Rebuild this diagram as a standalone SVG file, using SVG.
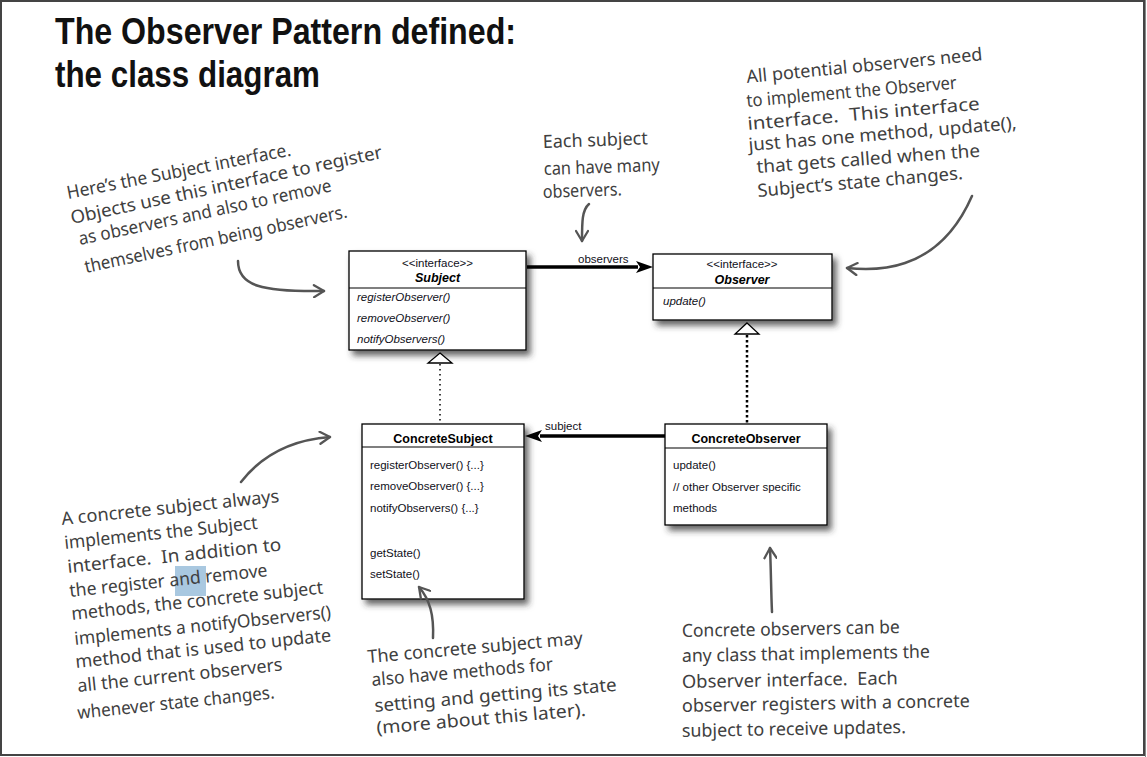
<svg xmlns="http://www.w3.org/2000/svg" width="1147" height="757" viewBox="0 0 1147 757">
<defs>
<style>
.box{fill:#fff;stroke:#000;stroke-width:1.3}
.div{stroke:#000;stroke-width:1.2}
.uml{font-family:"Liberation Sans",Arial,sans-serif;font-size:11.5px;fill:#101020}
.it{font-style:italic}
.ttl{font-family:"Liberation Sans",Arial,sans-serif;font-size:12.5px;font-weight:bold;fill:#000}
.hand{font-family:"Noto Sans","DejaVu Sans",sans-serif;font-size:18px;fill:#404040}
.title{font-family:"Liberation Sans",Arial,sans-serif;font-size:36px;font-weight:bold;fill:#111}
.note{fill:none;stroke:#555;stroke-width:2.5;stroke-linecap:round;stroke-linejoin:round}
</style>
<filter id="sh" x="-10%" y="-10%" width="130%" height="130%">
<feDropShadow dx="4" dy="5" stdDeviation="3" flood-color="#333" flood-opacity="0.75"/>
</filter>
<marker id="chev" viewBox="0 0 14 14" refX="12" refY="7" markerWidth="14" markerHeight="14" markerUnits="userSpaceOnUse" orient="auto">
<path d="M2,1 L12,7 L2,13" fill="none" stroke="#555" stroke-width="2.3" stroke-linecap="round" stroke-linejoin="round"/>
</marker>
</defs>
<rect x="0" y="0" width="1147" height="757" fill="#fff"/>
<rect x="1" y="1" width="1143" height="754" fill="none" stroke="#444" stroke-width="2"/>
<line x1="1145.5" y1="0" x2="1145.5" y2="757" stroke="#888" stroke-width="1"/>

<g id="title">
<text class="title" x="55" y="44" textLength="461" lengthAdjust="spacingAndGlyphs">The Observer Pattern defined:</text>
<text class="title" x="55" y="87" textLength="265" lengthAdjust="spacingAndGlyphs">the class diagram</text>
</g>

<g id="subject">
<rect class="box" x="349" y="251" width="177" height="99" filter="url(#sh)"/>
<line class="div" x1="349" y1="288" x2="526" y2="288"/>
<text class="uml" x="437.5" y="267" text-anchor="middle">&lt;&lt;interface&gt;&gt;</text>
<text class="ttl it" x="437.5" y="282" text-anchor="middle">Subject</text>
<text class="uml it" x="357" y="301">registerObserver()</text>
<text class="uml it" x="357" y="322">removeObserver()</text>
<text class="uml it" x="357" y="343">notifyObservers()</text>
</g>

<g id="observer">
<rect class="box" x="653" y="254" width="179" height="66" filter="url(#sh)"/>
<line class="div" x1="653" y1="288" x2="832" y2="288"/>
<text class="uml" x="742" y="268" text-anchor="middle">&lt;&lt;interface&gt;&gt;</text>
<text class="ttl it" x="742" y="284" text-anchor="middle">Observer</text>
<text class="uml it" x="663" y="305">update()</text>
</g>

<g id="concrete-subject">
<rect class="box" x="362" y="424" width="162" height="175" filter="url(#sh)"/>
<line class="div" x1="362" y1="447" x2="524" y2="447"/>
<text class="ttl" x="443" y="443" text-anchor="middle">ConcreteSubject</text>
<text class="uml" x="370" y="469">registerObserver() {...}</text>
<text class="uml" x="370" y="490">removeObserver() {...}</text>
<text class="uml" x="370" y="512">notifyObservers() {...}</text>
<text class="uml" x="370" y="557">getState()</text>
<text class="uml" x="370" y="578">setState()</text>
</g>

<g id="concrete-observer">
<rect class="box" x="665" y="424" width="162" height="101" filter="url(#sh)"/>
<line class="div" x1="665" y1="448" x2="827" y2="448"/>
<text class="ttl" x="746" y="443" text-anchor="middle">ConcreteObserver</text>
<text class="uml" x="673" y="469">update()</text>
<text class="uml" x="673" y="491">// other Observer specific</text>
<text class="uml" x="673" y="512">methods</text>
</g>

<g id="connectors">
<line x1="527" y1="267" x2="638" y2="267" stroke="#000" stroke-width="3.3"/>
<path d="M653,267 L636,261 L640,267 L636,273 Z" fill="#000"/>
<text class="uml" x="578" y="263">observers</text>
<line x1="665" y1="436" x2="540" y2="436" stroke="#000" stroke-width="3.3"/>
<path d="M525,436 L542,430 L538,436 L542,442 Z" fill="#000"/>
<text class="uml" x="545" y="430">subject</text>
<line x1="440" y1="364" x2="440" y2="424" stroke="#000" stroke-width="1.5" stroke-dasharray="1.5 3.5"/>
<path d="M440,353 L452,363 L428,363 Z" fill="#fff" stroke="#000" stroke-width="1.3"/>
<line x1="747" y1="335" x2="747" y2="424" stroke="#000" stroke-width="2.5" stroke-dasharray="2.5 2.5"/>
<path d="M747,323 L759,334 L735,334 Z" fill="#fff" stroke="#000" stroke-width="1.3"/>
</g>

<g id="note-subject">
<text class="hand" x="68" y="199" transform="rotate(-11 68 199)" textLength="228" lengthAdjust="spacingAndGlyphs">Here’s the Subject interface.</text>
<text class="hand" x="72" y="224" transform="rotate(-12 72 224)" textLength="318" lengthAdjust="spacingAndGlyphs">Objects use this interface to register</text>
<text class="hand" x="80" y="245" transform="rotate(-12 80 245)" textLength="258" lengthAdjust="spacingAndGlyphs">as observers and also to remove</text>
<text class="hand" x="86" y="273" transform="rotate(-12 86 273)" textLength="268" lengthAdjust="spacingAndGlyphs">themselves from being observers.</text>
<path class="note" d="M238,261 C238,286 262,292 324,291" marker-end="url(#chev)"/>
</g>

<g id="note-many">
<text class="hand" x="543" y="148" transform="rotate(-2 543 148)" textLength="105" lengthAdjust="spacingAndGlyphs">Each subject</text>
<text class="hand" x="544" y="175" transform="rotate(-2 544 175)" textLength="116" lengthAdjust="spacingAndGlyphs">can have many</text>
<text class="hand" x="543" y="198" transform="rotate(-2 543 198)" textLength="79" lengthAdjust="spacingAndGlyphs">observers.</text>
<path class="note" d="M589,204 C582,210 582,222 582,241" marker-end="url(#chev)"/>
</g>

<g id="note-observer">
<text class="hand" x="747" y="83" transform="rotate(-5.5 747 83)" textLength="237" lengthAdjust="spacingAndGlyphs">All potential observers need</text>
<text class="hand" x="747" y="107" transform="rotate(-5 747 107)" textLength="211" lengthAdjust="spacingAndGlyphs">to implement the Observer</text>
<text class="hand" x="748" y="130" transform="rotate(-5 748 130)" textLength="233" lengthAdjust="spacingAndGlyphs">interface.&#160; This interface</text>
<text class="hand" x="749" y="151" transform="rotate(-4.7 749 151)" textLength="269" lengthAdjust="spacingAndGlyphs">just has one method, update(),</text>
<text class="hand" x="757" y="173" transform="rotate(-4.2 757 173)" textLength="224" lengthAdjust="spacingAndGlyphs">that gets called when the</text>
<text class="hand" x="758" y="197" transform="rotate(-5 758 197)" textLength="206" lengthAdjust="spacingAndGlyphs">Subject’s state changes.</text>
<path class="note" d="M972,196 C958,228 938,252 905,263 C885,270 866,270 847,268" marker-end="url(#chev)"/>
</g>

<g id="note-concrete-subject">
<rect x="175" y="566" width="31" height="30" fill="#a9c8e0"/>
<text class="hand" x="62" y="525" transform="rotate(-6 62 525)" textLength="219" lengthAdjust="spacingAndGlyphs">A concrete subject always</text>
<text class="hand" x="65" y="549" transform="rotate(-6 65 549)" textLength="194" lengthAdjust="spacingAndGlyphs">implements the Subject</text>
<text class="hand" x="68" y="573" transform="rotate(-6 68 573)" textLength="215" lengthAdjust="spacingAndGlyphs">interface.&#160; In addition to</text>
<text class="hand" x="70" y="597" transform="rotate(-6 70 597)" textLength="199" lengthAdjust="spacingAndGlyphs">the register and remove</text>
<text class="hand" x="72" y="620" transform="rotate(-6 72 620)" textLength="253" lengthAdjust="spacingAndGlyphs">methods, the concrete subject</text>
<text class="hand" x="75" y="645" transform="rotate(-6 75 645)" textLength="258" lengthAdjust="spacingAndGlyphs">implements a notifyObservers()</text>
<text class="hand" x="76" y="668" transform="rotate(-6 76 668)" textLength="257" lengthAdjust="spacingAndGlyphs">method that is used to update</text>
<text class="hand" x="78" y="692" transform="rotate(-6 78 692)" textLength="206" lengthAdjust="spacingAndGlyphs">all the current observers</text>
<text class="hand" x="78" y="719" transform="rotate(-6 78 719)" textLength="198" lengthAdjust="spacingAndGlyphs">whenever state changes.</text>
<path class="note" d="M241,482 C262,455 290,440 330,437" marker-end="url(#chev)"/>
</g>

<g id="note-state">
<text class="hand" x="368" y="663" transform="rotate(-5 368 663)" textLength="216" lengthAdjust="spacingAndGlyphs">The concrete subject may</text>
<text class="hand" x="372" y="686" transform="rotate(-5 372 686)" textLength="182" lengthAdjust="spacingAndGlyphs">also have methods for</text>
<text class="hand" x="375" y="712" transform="rotate(-5 375 712)" textLength="243" lengthAdjust="spacingAndGlyphs">setting and getting its state</text>
<text class="hand" x="377" y="734" transform="rotate(-5 377 734)" textLength="210" lengthAdjust="spacingAndGlyphs">(more about this later).</text>
<path class="note" d="M433,638 C434,615 430,600 419,587" marker-end="url(#chev)"/>
</g>

<g id="note-concrete-observer">
<text class="hand" x="682" y="637" transform="rotate(-1 682 637)" textLength="218" lengthAdjust="spacingAndGlyphs">Concrete observers can be</text>
<text class="hand" x="682" y="662" transform="rotate(-1 682 662)" textLength="248" lengthAdjust="spacingAndGlyphs">any class that implements the</text>
<text class="hand" x="682" y="688" transform="rotate(-1 682 688)" textLength="216" lengthAdjust="spacingAndGlyphs">Observer interface.&#160; Each</text>
<text class="hand" x="682" y="712" transform="rotate(-1 682 712)" textLength="288" lengthAdjust="spacingAndGlyphs">observer registers with a concrete</text>
<text class="hand" x="682" y="737" transform="rotate(-1 682 737)" textLength="224" lengthAdjust="spacingAndGlyphs">subject to receive updates.</text>
<path class="note" d="M772,612 C771,590 771,570 770,548" marker-end="url(#chev)"/>
</g>
</svg>
